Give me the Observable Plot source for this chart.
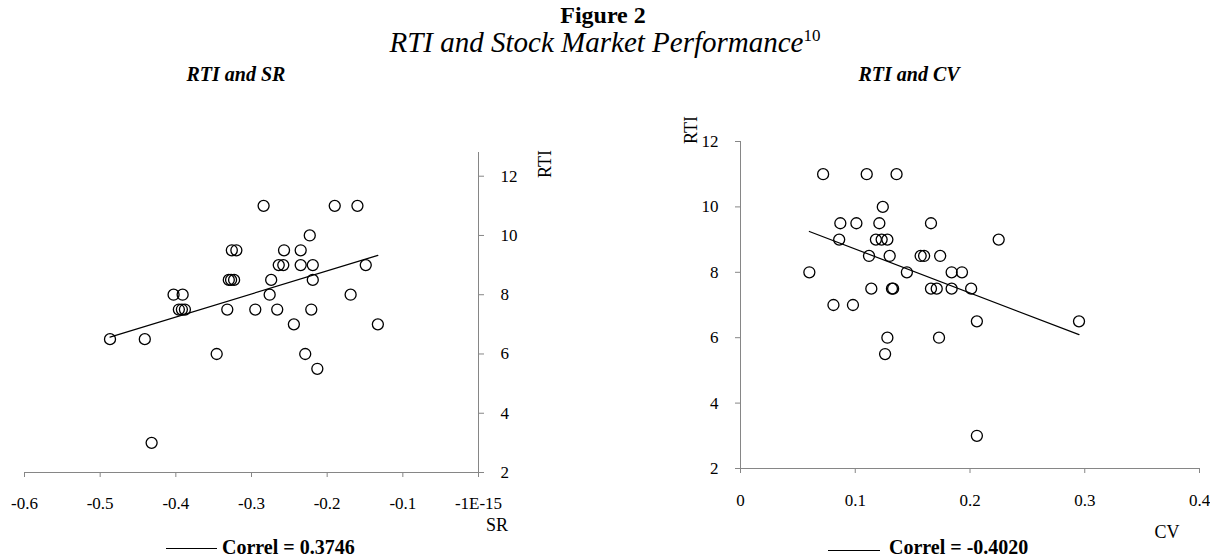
<!DOCTYPE html>
<html>
<head>
<meta charset="utf-8">
<script src="https://cdn.jsdelivr.net/npm/d3@7"></script>
<script src="https://cdn.jsdelivr.net/npm/@observablehq/plot@0.6"></script>
<style>
  html, body { margin: 0; padding: 0; background: #fff; }
  #wrap { position: relative; width: 1210px; height: 559px; overflow: hidden; font-family: "Liberation Serif", serif; color: #000; }
  .pane { position: absolute; top: 100px; }
  #overlay { position: absolute; left: 0; top: 0; pointer-events: none; }
</style>
</head>
<body>
<div id="wrap">
  <div id="leftPane" class="pane" style="left:0px"></div>
  <div id="rightPane" class="pane" style="left:610px"></div>
  <svg id="overlay" width="1210" height="559" font-family="Liberation Serif, serif">
    <text x="603" y="23" text-anchor="middle" font-size="24" font-weight="bold">Figure 2</text>
    <text x="605" y="52" text-anchor="middle" font-size="29" font-style="italic">RTI and Stock Market Performance<tspan font-size="17" font-style="normal" dy="-11">10</tspan></text>
    <text x="236" y="81" text-anchor="middle" font-size="20" font-weight="bold" font-style="italic">RTI and SR</text>
    <text x="909" y="81" text-anchor="middle" font-size="20" font-weight="bold" font-style="italic">RTI and CV</text>
    <text transform="translate(551,164) rotate(-90)" text-anchor="middle" font-size="18">RTI</text>
    <text x="497" y="531" text-anchor="middle" font-size="18">SR</text>
    <text transform="translate(697,130) rotate(-90)" text-anchor="middle" font-size="18">RTI</text>
    <text x="1167" y="538" text-anchor="middle" font-size="18">CV</text>
    <line x1="166" x2="217" y1="548.5" y2="548.5" stroke="#000" stroke-width="1.2"/>
    <text x="222" y="554" font-size="20" font-weight="bold">Correl = 0.3746</text>
    <line x1="828" x2="880" y1="550.5" y2="550.5" stroke="#000" stroke-width="1.2"/>
    <text x="889" y="554" font-size="20" font-weight="bold">Correl = -0.4020</text>
  </svg>
</div>
<script>
// ---- Data: RTI and SR (left panel) ----
const srValues = [
  -0.284, -0.190, -0.160,
  -0.223,
  -0.326, -0.320, -0.257, -0.235,
  -0.264, -0.258, -0.235, -0.219, -0.149,
  -0.330, -0.327, -0.323, -0.274, -0.219,
  -0.403, -0.391, -0.276, -0.169,
  -0.396, -0.392, -0.388, -0.332, -0.295, -0.266, -0.221,
  -0.244, -0.133,
  -0.487, -0.441,
  -0.346, -0.229,
  -0.213,
  -0.432
];
const rtiSR = [
  11, 11, 11,
  10,
  9.5, 9.5, 9.5, 9.5,
  9, 9, 9, 9, 9,
  8.5, 8.5, 8.5, 8.5, 8.5,
  8, 8, 8, 8,
  7.5, 7.5, 7.5, 7.5, 7.5, 7.5, 7.5,
  7, 7,
  6.5, 6.5,
  6, 6,
  5.5,
  3
];
// ---- Data: RTI and CV (right panel) ----
const cvValues = [
  0.072, 0.110, 0.136,
  0.124,
  0.087, 0.101, 0.121, 0.166,
  0.086, 0.118, 0.123, 0.128, 0.225,
  0.112, 0.130, 0.157, 0.160, 0.174,
  0.060, 0.145, 0.184, 0.193,
  0.114, 0.132, 0.133, 0.166, 0.171, 0.184, 0.201,
  0.081, 0.098,
  0.206, 0.295,
  0.128, 0.173,
  0.126,
  0.206
];
const rtiCV = [
  11, 11, 11,
  10,
  9.5, 9.5, 9.5, 9.5,
  9, 9, 9, 9, 9,
  8.5, 8.5, 8.5, 8.5, 8.5,
  8, 8, 8, 8,
  7.5, 7.5, 7.5, 7.5, 7.5, 7.5, 7.5,
  7, 7,
  6.5, 6.5,
  6, 6,
  5.5,
  3
];
// ---- Tick labels ----
const srTicks = [-0.6, -0.5, -0.4, -0.3, -0.2, -0.1, 0];
const srTickLabels = ["-0.6", "-0.5", "-0.4", "-0.3", "-0.2", "-0.1", "-1E-15"];
const cvTicks = [0, 0.1, 0.2, 0.3, 0.4];
const cvTickLabels = ["0", "0.1", "0.2", "0.3", "0.4"];
const rtiTicks = [2, 4, 6, 8, 10, 12];

const leftData = srValues.map((x, i) => ({x, y: rtiSR[i]}));
const rightData = cvValues.map((x, i) => ({x, y: rtiCV[i]}));

const axisGrey = "#868686";
const baseStyle = {fontFamily: "Liberation Serif, serif", fontSize: "17px", background: "transparent", color: "#000", overflow: "visible"};

const left = Plot.plot({
  width: 600, height: 459,
  marginLeft: 24, marginRight: 122, marginTop: 52, marginBottom: 87,
  x: {domain: [-0.6, 0]},
  y: {domain: [2, 12.8]},
  style: baseStyle,
  marks: [
    Plot.ruleY([2], {stroke: axisGrey}),
    Plot.ruleX([0], {stroke: axisGrey}),
    Plot.axisX({ticks: srTicks, tickFormat: d => srTickLabels[srTicks.findIndex(t => Math.abs(t - d) < 1e-9)], tickSize: 5, tickPadding: 19, stroke: axisGrey, label: null}),
    Plot.axisY({anchor: "right", ticks: rtiTicks, tickSize: 5, tickPadding: 17, stroke: axisGrey, label: null}),
    Plot.linearRegressionY(leftData, {x: "x", y: "y", ci: 0, stroke: "#000", strokeWidth: 1.2}),
    Plot.dot(leftData, {x: "x", y: "y", r: 5.5, stroke: "#000", strokeWidth: 1.3, fill: "none"})
  ]
});

const right = Plot.plot({
  width: 600, height: 459,
  marginLeft: 130, marginRight: 11, marginTop: 41, marginBottom: 91,
  x: {domain: [0, 0.4]},
  y: {domain: [2, 12]},
  style: baseStyle,
  marks: [
    Plot.ruleY([2], {stroke: axisGrey}),
    Plot.ruleX([0], {stroke: axisGrey}),
    Plot.axisX({ticks: cvTicks, tickFormat: d => cvTickLabels[cvTicks.findIndex(t => Math.abs(t - d) < 1e-9)], tickSize: 5, tickPadding: 20, stroke: axisGrey, label: null}),
    Plot.axisY({anchor: "left", ticks: rtiTicks, tickSize: 5, tickPadding: 17, stroke: axisGrey, label: null}),
    Plot.linearRegressionY(rightData, {x: "x", y: "y", ci: 0, stroke: "#000", strokeWidth: 1.2}),
    Plot.dot(rightData, {x: "x", y: "y", r: 5.5, stroke: "#000", strokeWidth: 1.3, fill: "none"})
  ]
});

document.getElementById("leftPane").appendChild(left);
document.getElementById("rightPane").appendChild(right);
</script>
</body>
</html>
